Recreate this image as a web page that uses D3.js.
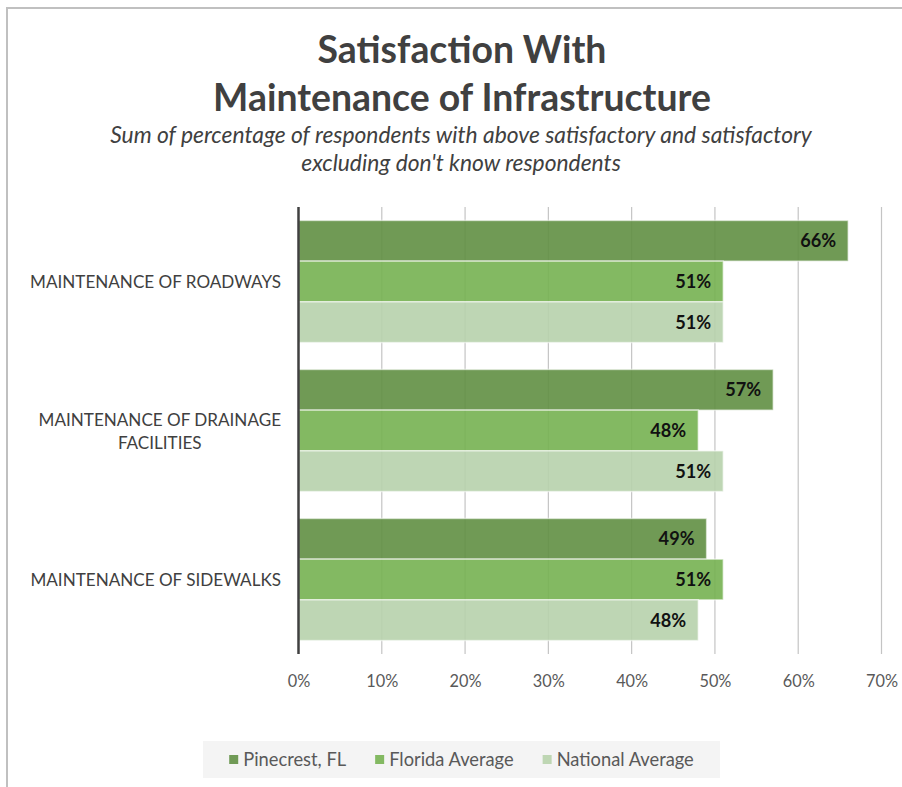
<!DOCTYPE html>
<html>
<head>
<meta charset="utf-8">
<script src="https://cdn.jsdelivr.net/npm/d3@7"></script>
<style>
  body { margin: 0; background: #fff; overflow: hidden; }
  svg { display: block; }
</style>
</head>
<body>
<svg id="chart" width="902" height="787"></svg>
<script>
// ---- data ----
const categories = [
  "MAINTENANCE OF ROADWAYS",
  "MAINTENANCE OF DRAINAGE FACILITIES",
  "MAINTENANCE OF SIDEWALKS"
];
const seriesNames = ["Pinecrest, FL", "Florida Average", "National Average"];
const pinecrest = [66, 57, 49];
const floridaAvg = [51, 48, 51];
const nationalAvg = [51, 51, 48];
const xTicks = [0, 10, 20, 30, 40, 50, 60, 70];
const titleLines = ["Satisfaction With", "Maintenance of Infrastructure"];
const subtitleLines = [
  "Sum of percentage of respondents with above satisfactory and satisfactory",
  "excluding don't know respondents"
];

// ---- styling ----
const FONT = "Lato, 'Open Sans', sans-serif";
const barFill = ["#608F43", "#75B151", "#B7D1AC"];     // drawn at 0.9 opacity
const swatchFill = ["#709A56", "#83B962", "#BED6B3"];  // opaque equivalents
const seriesValues = [pinecrest, floridaAvg, nationalAvg];

const rows = categories.map((c, i) => ({
  category: c,
  values: seriesNames.map((s, j) => ({ series: s, idx: j, value: seriesValues[j][i] }))
}));

const svg = d3.select("#chart");

// scale a text element's font size so its rendered width equals target
function fitWidth(sel, target) {
  const w = sel.node().getComputedTextLength();
  const fs = parseFloat(sel.attr("font-size"));
  const nfs = fs * target / w;
  sel.attr("font-size", nfs);
  return nfs;
}

// chart frame: only the top and left edges fall inside the page
svg.append("line")
  .attr("x1", 6).attr("x2", 902).attr("y1", 8).attr("y2", 8)
  .attr("stroke", "#c0c0c0").attr("stroke-width", 2);
svg.append("line")
  .attr("x1", 7).attr("x2", 7).attr("y1", 7).attr("y2", 787)
  .attr("stroke", "#c0c0c0").attr("stroke-width", 2);

// ---- title & subtitle ----
const cx = 462;
const t1 = svg.append("text").attr("x", cx).attr("y", 63)
  .attr("text-anchor", "middle").attr("font-family", FONT)
  .attr("font-weight", 700).attr("font-size", 32).attr("fill", "#404040")
  .text(titleLines[0]);
const t2 = svg.append("text").attr("x", cx).attr("y", 111)
  .attr("text-anchor", "middle").attr("font-family", FONT)
  .attr("font-weight", 700).attr("font-size", 32).attr("fill", "#404040")
  .text(titleLines[1]);
const tfs = fitWidth(t2, 498);
t1.attr("font-size", tfs);

const s1 = svg.append("text").attr("x", 461).attr("y", 143)
  .attr("text-anchor", "middle").attr("font-family", FONT)
  .attr("font-style", "italic").attr("font-size", 18).attr("fill", "#404040")
  .text(subtitleLines[0]);
const s2 = svg.append("text").attr("x", 461).attr("y", 171)
  .attr("text-anchor", "middle").attr("font-family", FONT)
  .attr("font-style", "italic").attr("font-size", 18).attr("fill", "#404040")
  .text(subtitleLines[1]);
const sfs = fitWidth(s1, 702);
s2.attr("font-size", sfs);

// ---- scales ----
const plotTop = 207, plotBottom = 654;
const x = d3.scaleLinear().domain([0, 70]).range([298.5, 881.5]);
const y = d3.scaleBand().domain(categories).range([plotTop, plotBottom]).padding(0);
const y1 = d3.scaleBand().domain(seriesNames).range([0, y.bandwidth()])
  .paddingInner(0).paddingOuter(0.33);

// ---- gridlines ----
svg.append("g").selectAll("line")
  .data(xTicks.filter(d => d > 0))
  .join("line")
  .attr("x1", d => x(d)).attr("x2", d => x(d))
  .attr("y1", plotTop).attr("y2", plotBottom)
  .attr("stroke", "#c4c4c4").attr("stroke-width", 1.2);

// ---- bars ----
const groups = svg.append("g").selectAll("g")
  .data(rows)
  .join("g")
  .attr("transform", d => `translate(0,${y(d.category)})`);

groups.selectAll("rect")
  .data(d => d.values)
  .join("rect")
  .attr("x", x(0))
  .attr("y", d => y1(d.series))
  .attr("width", d => x(d.value) - x(0))
  .attr("height", y1.bandwidth())
  .attr("fill", d => barFill[d.idx])
  .attr("fill-opacity", 0.9)
  .attr("stroke", "rgba(255,255,255,0.55)")
  .attr("stroke-width", 1.5);

// value labels inside bar ends
const valLabels = groups.selectAll("text.val")
  .data(d => d.values)
  .join("text")
  .attr("class", "val")
  .attr("x", d => x(d.value) - 12)
  .attr("y", d => y1(d.series) + y1.bandwidth() / 2)
  .attr("dy", "0.35em")
  .attr("text-anchor", "end")
  .attr("font-family", FONT)
  .attr("font-weight", 700)
  .attr("font-size", 18)
  .attr("fill", "#111")
  .text(d => d.value + "%");
{
  const probe = valLabels.filter(d => d.value === 66);
  const fs = fitWidth(probe, 36);
  valLabels.attr("font-size", fs);
}

// ---- vertical axis line ----
svg.append("line")
  .attr("x1", x(0)).attr("x2", x(0))
  .attr("y1", plotTop).attr("y2", plotBottom)
  .attr("stroke", "#404040").attr("stroke-width", 2.5);

// ---- x axis tick labels ----
const xAxis = d3.axisBottom(x)
  .tickValues(xTicks)
  .tickFormat(d => d + "%")
  .tickSize(0)
  .tickPadding(0);
const xg = svg.append("g")
  .attr("transform", `translate(0,${plotBottom + 21})`)
  .call(xAxis);
xg.select(".domain").remove();
xg.selectAll("text")
  .attr("font-family", FONT)
  .attr("font-size", 17)
  .attr("fill", "#595959");
{
  const probe = xg.selectAll("text").filter(d => d === 10);
  const fs = fitWidth(probe, 32);
  xg.selectAll("text").attr("font-size", fs);
}

// ---- category labels (wrapped, right aligned to the axis) ----
const catG = svg.append("g");
const labelRight = 281, wrapWidth = 265;
const probeCat = catG.append("text").attr("font-family", FONT)
  .attr("font-size", 17).text(categories[0]);
const cfs = fitWidth(probeCat, 251);
probeCat.remove();

categories.forEach(cat => {
  const words = cat.split(" ");
  const lines = [];
  let line = [];
  const meas = catG.append("text").attr("font-family", FONT).attr("font-size", cfs);
  words.forEach(w => {
    const trial = line.concat(w).join(" ");
    meas.text(trial);
    if (meas.node().getComputedTextLength() > wrapWidth && line.length) {
      lines.push(line.join(" "));
      line = [w];
    } else {
      line.push(w);
    }
  });
  lines.push(line.join(" "));
  // width of the widest line sets the block; lines centred within it
  const widths = lines.map(l => { meas.text(l); return meas.node().getComputedTextLength(); });
  meas.remove();
  const blockW = d3.max(widths);
  const centerX = labelRight - blockW / 2;
  const lh = 23;
  const cy = y(cat) + y.bandwidth() / 2 + 1;
  lines.forEach((l, i) => {
    catG.append("text")
      .attr("x", lines.length > 1 ? centerX : labelRight)
      .attr("y", cy + (i - (lines.length - 1) / 2) * lh)
      .attr("dy", "0.35em")
      .attr("text-anchor", lines.length > 1 ? "middle" : "end")
      .attr("font-family", FONT)
      .attr("font-size", cfs)
      .attr("fill", "#404040")
      .text(l);
  });
});

// ---- legend ----
const legBox = { x: 203, y: 741, w: 517, h: 37 };
svg.append("rect")
  .attr("x", legBox.x).attr("y", legBox.y)
  .attr("width", legBox.w).attr("height", legBox.h)
  .attr("fill", "#f4f4f4");

const legG = svg.append("g");
const legCy = legBox.y + legBox.h / 2;
const items = legG.selectAll("g").data(seriesNames).join("g");
items.append("rect")
  .attr("width", 9).attr("height", 9)
  .attr("y", legCy - 4.5)
  .attr("fill", (d, i) => swatchFill[i]);
const legTexts = items.append("text")
  .attr("x", 14)
  .attr("y", legCy)
  .attr("dy", "0.35em")
  .attr("font-family", FONT)
  .attr("font-size", 17)
  .attr("fill", "#595959")
  .text(d => d);
{
  const probe = legTexts.filter((d, i) => i === 0);
  const fs = fitWidth(probe, 103);
  legTexts.attr("font-size", fs);
}
let cursor = 0;
const gap = 29;
const offsets = [];
legTexts.each(function () {
  offsets.push(cursor);
  cursor += 14 + this.getComputedTextLength() + gap;
});
const totalW = cursor - gap;
const startX = legBox.x + (legBox.w - totalW) / 2;
items.attr("transform", (d, i) => `translate(${startX + offsets[i]},0)`);
</script>
</body>
</html>
